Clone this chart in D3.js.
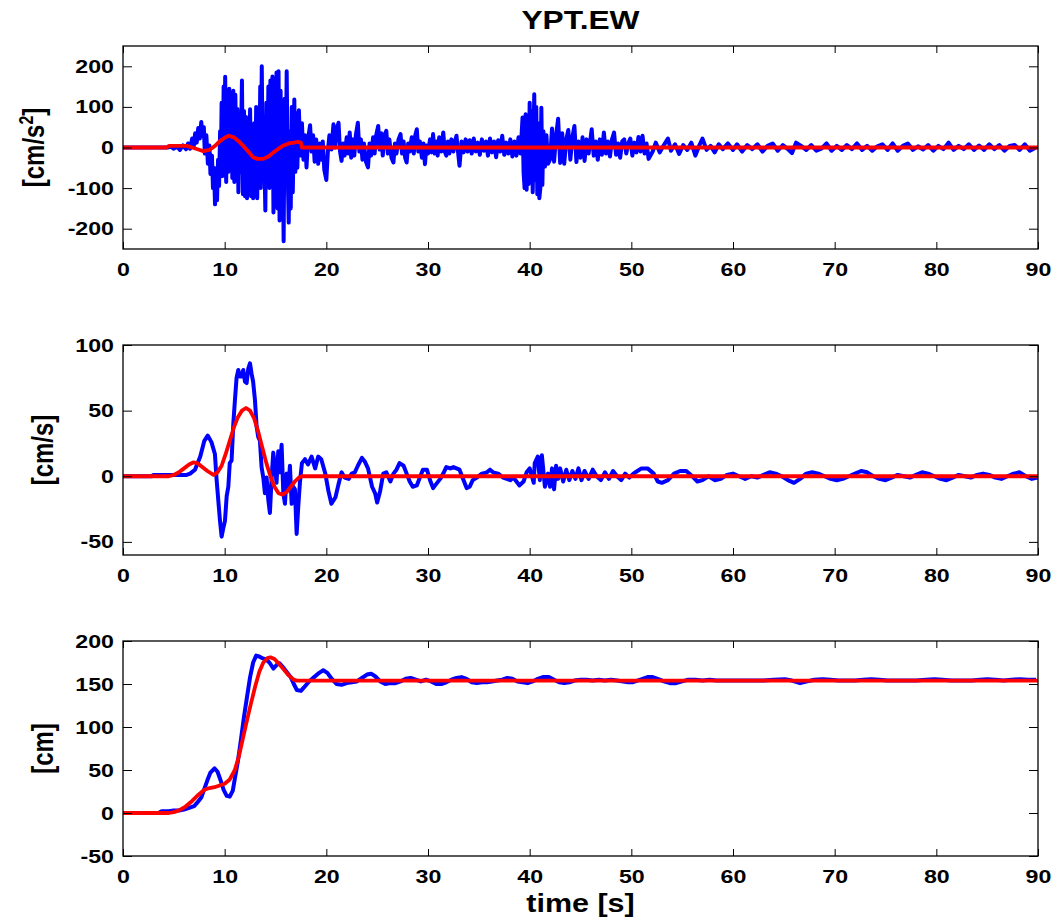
<!DOCTYPE html>
<html>
<head>
<meta charset="utf-8">
<script src="https://cdn.jsdelivr.net/npm/d3@7"></script>
<style>
body { margin: 0; background: #fff; }
svg { display: block; }
text { font-family: "Liberation Sans", Arial, sans-serif; font-weight: bold; fill: #000; }
</style>
</head>
<body>
<svg id="chart" width="1062" height="920"></svg>
<script>
// tick values
const xTicks = [0, 10, 20, 30, 40, 50, 60, 70, 80, 90];
const accTicks = [-200, -100, 0, 100, 200];
const velTicks = [-50, 0, 50, 100];
const dispTicks = [-50, 0, 50, 100, 150, 200];

// acceleration [t (s), cm/s2]
const accBlue = [
	[0, 0], [4.4, 0], [4.7, 2], [5.0, -3], [5.3, 3], [5.6, -6], [5.9, 5], [6.2, -4], [6.4, 10], [6.6, -3],
	[6.8, 22], [6.95, 2], [7.1, 35], [7.25, 12], [7.4, 48], [7.55, 22], [7.7, 63], [7.8, 28], [7.95, 50], [8.05, -15],
	[8.2, 30], [8.35, -40], [8.5, 5], [8.6, -65], [8.75, -20], [8.85, -100], [8.95, -50], [9.05, -140], [9.15, -70], [9.25, -130],
	[9.35, -30], [9.45, -95], [9.55, 40], [9.62, -60], [9.7, 110], [9.8, -70], [9.9, 150], [9.95, -40], [10.05, 174], [10.15, -85],
	[10.25, 120], [10.35, -60], [10.45, 145], [10.55, -30], [10.65, 100], [10.75, -75], [10.85, 140], [10.95, -85], [11.05, 130], [11.15, -40],
	[11.25, 95], [11.35, -110], [11.45, 60], [11.55, -60], [11.7, 165], [11.8, -115], [11.9, 90], [12.0, -120], [12.1, 75], [12.2, -125],
	[12.3, 40], [12.4, -100], [12.5, 94], [12.6, -120], [12.7, 20], [12.8, -125], [12.9, 60], [13.0, -100], [13.1, 100], [13.2, -125],
	[13.3, 30], [13.4, -60], [13.5, 150], [13.55, -100], [13.65, 200], [13.75, -80], [13.85, 60], [14.0, -155], [14.1, 110], [14.2, -60],
	[14.3, 150], [14.4, -100], [14.5, 165], [14.6, -90], [14.7, 175], [14.8, -160], [14.9, 120], [15.0, -120], [15.1, 185], [15.2, -150],
	[15.3, 188], [15.4, -180], [15.5, 140], [15.6, -120], [15.7, 60], [15.8, -231], [15.9, 120], [16.0, -80], [16.1, 188], [16.2, -60],
	[16.3, -185], [16.4, 40], [16.5, -150], [16.6, 100], [16.7, -110], [16.85, 118], [16.95, -60], [17.05, 85], [17.15, -50], [17.3, 92],
	[17.45, -20], [17.6, 60], [17.75, -30], [17.9, 30], [18.05, -49], [18.2, 20], [18.4, 55], [18.55, -10], [18.7, 30], [18.85, -35],
	[19.0, 20], [19.2, -40], [19.35, 10], [19.5, -30], [19.65, 15], [19.8, -55], [20.0, -80], [20.15, -10], [20.3, 30], [20.5, -5],
	[20.7, 57], [20.85, 0], [21.0, 45], [21.2, 61], [21.35, -10], [21.5, -33], [21.65, 10], [21.8, -20], [22.0, 25], [22.15, -15],
	[22.3, 37], [22.45, -25], [22.6, 20], [22.75, -20], [22.9, 30], [23.1, 61], [23.25, -10], [23.4, 20], [23.55, -30], [23.7, 10],
	[23.9, -35], [24.1, -49], [24.25, 10], [24.4, -20], [24.6, 25], [24.75, -15], [24.9, 30], [25.1, 53], [25.25, -5], [25.4, 35],
	[25.55, -20], [25.7, 30], [25.9, 41], [26.05, -15], [26.2, 20], [26.4, -25], [26.6, -37], [26.75, 10], [26.9, -15], [27.1, 20],
	[27.3, 33], [27.45, -15], [27.6, 15], [27.75, -25], [27.9, -37], [28.05, 10], [28.2, -10], [28.4, 25], [28.6, -15], [28.75, 30],
	[28.9, 45], [29.05, -10], [29.2, 15], [29.4, -25], [29.55, 10], [29.7, -41], [29.85, 5], [30.0, -15], [30.2, 20], [30.35, -12],
	[30.5, 33], [30.65, -15], [30.8, 15], [30.95, -20], [31.1, 25], [31.3, -10], [31.5, 37], [31.65, -10], [31.8, -20], [31.95, 15],
	[32.1, -15], [32.3, 20], [32.5, -10], [32.65, 15], [32.8, 29], [32.95, -10], [33.1, -45], [33.3, 15], [33.5, -12], [33.7, 20],
	[33.9, -10], [34.1, 18], [34.3, -15], [34.5, 22], [34.7, -10], [34.9, 12], [35.1, -18], [35.3, 20], [35.5, -8], [35.7, 15],
	[35.9, -20], [36.1, 22], [36.3, -12], [36.5, 15], [36.7, -24], [36.9, 18], [37.1, -10], [37.3, 29], [37.5, -18], [37.7, 12],
	[37.9, -15], [38.1, 20], [38.3, -22], [38.5, 15], [38.7, -20], [38.9, 25], [39.1, -15], [39.3, 74], [39.4, -60], [39.5, -100],
	[39.6, 82], [39.7, -104], [39.8, 60], [39.9, -90], [40.0, 110], [40.1, -60], [40.2, 90], [40.3, -110], [40.45, 131], [40.55, -80],
	[40.65, 100], [40.75, -115], [40.85, 60], [40.95, -125], [41.05, -100], [41.15, 98], [41.25, -92], [41.35, 40], [41.5, -47], [41.65, 30],
	[41.8, -40], [42.0, -30], [42.2, 47], [42.4, -35], [42.6, 30], [42.8, 71], [43.0, -38], [43.2, 35], [43.4, -40], [43.6, 20],
	[43.8, 43], [44.0, -30], [44.2, 25], [44.4, 53], [44.6, -36], [44.8, 15], [45.0, -25], [45.2, 25], [45.4, -33], [45.6, 20],
	[45.8, -15], [46.1, 45], [46.3, -20], [46.5, 15], [46.7, -30], [46.9, 20], [47.1, -18], [47.3, 37], [47.5, -15], [47.7, 15],
	[47.9, -22], [48.1, 20], [48.3, 37], [48.5, -18], [48.7, 10], [48.9, -25], [49.1, 15], [49.3, 20], [49.5, -15], [49.7, 10],
	[49.9, 22], [50.1, -20], [50.3, 12], [50.5, -12], [50.7, 26], [50.9, -10], [51.1, 29], [51.3, -15], [51.5, 10], [51.7, -28],
	[52.1, -10], [52.4, 12], [52.8, -12], [53.2, 6], [53.6, 22], [53.9, -8], [54.3, 8], [54.7, -16], [55.1, 6], [55.5, -6],
	[55.9, 12], [56.3, -20], [56.7, 6], [57.0, 22], [57.4, -6], [57.8, 4], [58.2, -12], [58.6, 8], [59.0, -4], [59.5, 10],
	[60.0, -6], [60.4, 8], [60.9, -10], [61.4, 6], [61.9, -4], [62.4, 8], [62.9, -10], [63.4, 4], [63.9, 10], [64.4, -8],
	[64.9, 6], [65.4, -4], [65.8, -14], [66.2, 12], [66.7, 4], [67.2, -6], [67.7, 6], [68.2, -8], [68.7, -3], [69.2, 10],
	[69.7, -8], [70.2, 4], [70.7, -6], [71.2, 6], [71.7, -4], [72.2, 10], [72.7, -6], [73.2, 4], [73.7, -8], [74.2, 3],
	[74.7, 8], [75.2, -6], [75.7, 10], [76.2, -8], [76.7, 4], [77.2, 10], [77.7, -6], [78.2, 3], [78.7, -5], [79.2, 6],
	[79.7, -8], [80.2, 4], [80.7, -4], [81.2, 12], [81.7, -6], [82.2, 4], [82.7, -4], [83.2, 8], [83.7, -6], [84.2, 5],
	[84.7, -6], [85.2, 8], [85.7, -4], [86.2, 6], [86.7, -8], [87.2, 4], [87.7, 6], [88.2, -6], [88.7, 8], [89.2, -8],
	[89.8, 0]
];
const accRed = [
	[0, 0], [4.3, 0], [4.5, 4], [6.3, 4], [6.8, 0], [7.4, -5], [7.9, -9], [8.5, -6], [9.0, 3], [9.5, 15],
	[10.0, 24], [10.4, 29], [10.9, 25], [11.4, 15], [11.9, 2], [12.4, -12], [12.8, -24], [13.2, -28], [13.8, -28], [14.3, -22],
	[14.8, -12], [15.3, -3], [15.8, 5], [16.3, 10], [16.8, 12], [17.2, 14], [17.5, 12], [17.6, 0], [90, 0]
];

// velocity [t (s), cm/s]
const velBlue = [
	[0, 0], [2.8, 0], [3.0, 1], [6.26, 1], [6.6, 2], [7.08, 5], [7.6, 15], [8.0, 27], [8.33, 31], [8.7, 26],
	[9.04, 17], [9.21, -3], [9.54, -34], [9.7, -46], [9.85, -40], [10.03, -34], [10.2, -15], [10.36, -8], [10.5, 10], [10.68, 12],
	[10.85, 40], [11.01, 58], [11.17, 75], [11.34, 81], [11.5, 76], [11.67, 76], [11.83, 81], [12.0, 72], [12.16, 71], [12.32, 82],
	[12.49, 86], [12.65, 78], [12.8, 72], [12.98, 58], [13.14, 38], [13.3, 30], [13.47, 27], [13.63, 7], [13.8, -1], [13.96, -13],
	[14.13, -1], [14.29, -18], [14.45, -28], [14.62, -1], [14.78, 18], [14.95, 7], [15.1, -5], [15.27, 19], [15.44, 3], [15.6, 24],
	[15.77, -13], [15.93, -21], [16.1, 2], [16.26, -8], [16.42, 8], [16.59, -21], [16.75, -8], [16.91, -10], [17.08, -44], [17.24, -23],
	[17.4, -5], [17.6, 10], [17.9, 13], [18.2, 9], [18.55, 15], [18.9, 6], [19.2, 15], [19.5, 13], [19.9, 2], [20.2, -11],
	[20.5, -21], [20.9, -16], [21.2, -6], [21.5, 3], [21.8, -1], [22.2, -2], [22.5, 2], [22.8, 3], [23.1, 8], [23.5, 14],
	[23.8, 11], [24.1, 6], [24.5, -8], [24.8, -13], [25.0, -20], [25.3, -11], [25.6, 2], [25.9, 3], [26.3, -4], [26.6, 2],
	[26.9, 5], [27.2, 10], [27.6, 8], [27.9, 2], [28.2, -4], [28.5, -8], [28.9, -7], [29.2, -1], [29.5, 5], [29.9, 5],
	[30.2, -3], [30.5, -9], [30.8, -6], [31.2, -2], [31.5, 2], [31.8, 7], [32.2, 6], [32.5, 7], [32.8, 6], [33.1, 5],
	[33.5, -3], [33.8, -9], [34.1, -8], [34.4, -3], [34.8, -1], [35.3, 2], [35.8, 3], [36.1, 5], [36.4, 3], [36.9, 2],
	[37.4, -1], [38.1, -3], [38.4, -1], [38.7, -4], [39.0, -7], [39.4, -4], [39.7, 3], [40.0, 6], [40.4, -5], [40.5, 10],
	[40.8, 15], [41.0, -3], [41.2, 16], [41.5, -8], [41.8, 2], [42.0, -8], [42.2, 6], [42.4, -10], [42.6, 8], [42.8, -2],
	[43.0, 6], [43.3, -4], [43.6, 5], [43.9, -3], [44.2, 4], [44.5, -2], [44.8, 6], [45.1, -3], [45.4, 4], [45.8, -2],
	[46.2, 5], [46.6, 0], [47.0, -3], [47.4, 3], [47.8, -2], [48.2, 4], [48.6, 0], [49.0, -3], [49.4, 2], [49.8, -1],
	[50.2, 2], [50.6, 4], [51.0, 6], [51.6, 6], [52.2, 2], [52.6, -4], [53.0, -5], [53.6, -3], [54.2, 2], [54.8, 4],
	[55.4, 4], [56.0, 0], [56.5, -4], [57.0, -3], [57.6, 0], [58.2, -3], [58.8, -2], [59.4, 1], [60.0, 2], [60.6, 0],
	[61.2, -2], [61.8, 0], [62.4, -1], [63.0, 1], [63.6, 3], [64.2, 2], [64.8, 0], [65.4, -3], [66.0, -5], [66.6, -2],
	[67.2, 2], [67.8, 3], [68.4, 2], [69.0, 0], [69.6, -2], [70.2, -3], [70.8, -2], [71.4, 0], [72.0, 2], [72.6, 4],
	[73.2, 3], [73.8, 0], [74.4, -2], [75.0, -3], [75.6, -1], [76.2, 1], [76.8, 0], [77.4, -1], [78.0, 1], [78.6, 3],
	[79.2, 2], [79.8, 0], [80.4, -2], [81.0, -3], [81.6, -1], [82.2, 1], [82.8, 0], [83.4, -1], [84.0, 1], [84.6, 2],
	[85.2, 1], [85.8, -1], [86.4, -2], [87.0, 0], [87.6, 2], [88.2, 3], [88.8, 0], [89.4, -2], [90, -1]
];
const velRed = [
	[0, 0], [4.5, 0], [5.0, 1], [5.5, 3], [6.0, 6], [6.5, 9], [6.9, 10.5], [7.3, 10], [7.8, 7], [8.3, 4],
	[8.9, 1], [9.3, 3], [9.7, 8], [10.1, 17], [10.5, 27], [10.9, 37], [11.3, 45], [11.7, 50], [12.1, 52], [12.5, 50],
	[12.9, 44], [13.3, 34], [13.7, 22], [14.1, 10], [14.5, 0], [14.9, -8], [15.3, -13], [15.7, -14], [16.1, -12], [16.5, -8],
	[16.9, -4], [17.3, -1], [17.6, 0], [90, 0]
];

// displacement [t (s), cm]
const dispBlue = [
	[0, 0], [3.5, 0], [3.8, 2], [4.5, 2], [5.0, 3], [5.5, 3], [6.0, 4], [6.5, 6], [7.0, 8], [7.3, 12],
	[7.7, 18], [8.0, 28], [8.3, 38], [8.6, 47], [9.0, 52], [9.3, 48], [9.6, 38], [9.9, 27], [10.2, 20], [10.5, 19],
	[10.8, 26], [11.0, 40], [11.3, 60], [11.6, 85], [11.9, 112], [12.2, 135], [12.5, 158], [12.8, 175], [13.1, 183], [13.4, 182],
	[13.7, 180], [14.0, 179], [14.4, 175], [14.8, 168], [15.1, 172], [15.4, 174], [15.7, 170], [16.1, 164], [16.5, 158], [16.8, 150],
	[17.1, 143], [17.5, 142], [17.8, 146], [18.3, 153], [18.8, 158], [19.3, 163], [19.7, 166], [20.1, 163], [20.6, 155], [21.0, 150],
	[21.5, 149], [22.0, 151], [22.5, 152], [23.0, 153], [23.5, 157], [24.0, 161], [24.4, 162], [24.8, 159], [25.3, 153], [25.8, 150],
	[26.3, 151], [26.8, 151], [27.3, 153], [27.8, 156], [28.3, 157], [28.8, 155], [29.3, 153], [29.8, 155], [30.3, 153], [30.8, 150],
	[31.3, 150], [31.8, 152], [32.3, 155], [32.8, 157], [33.3, 158], [33.8, 156], [34.3, 152], [34.8, 151], [35.3, 152], [35.8, 152],
	[36.3, 153], [36.8, 154], [37.3, 155], [37.8, 157], [38.3, 156], [38.8, 153], [39.3, 152], [39.8, 151], [40.3, 153], [40.8, 156],
	[41.3, 158], [41.9, 158], [42.4, 155], [42.9, 152], [43.4, 151], [43.9, 152], [44.4, 154], [45.0, 155], [45.6, 155], [46.2, 154],
	[46.8, 155], [47.4, 154], [48.0, 155], [48.6, 154], [49.2, 153], [49.7, 152], [50.1, 152], [50.6, 154], [51.1, 156], [51.6, 158],
	[52.1, 158], [52.6, 156], [53.2, 153], [53.8, 151], [54.4, 151], [55.0, 153], [55.6, 155], [56.3, 155], [57.0, 154], [57.7, 155],
	[58.4, 154], [59.2, 154], [60.0, 154], [61.0, 154], [62.0, 154], [63.0, 154], [64.0, 155], [65.1, 155.5], [65.8, 154], [66.6, 151],
	[67.3, 153], [68.0, 155], [68.8, 155.5], [69.6, 155], [70.4, 154], [71.2, 154], [72.0, 154], [72.8, 155], [73.6, 155.5], [74.4, 155],
	[75.2, 154], [76.0, 154], [77.0, 154], [78.0, 154], [79.0, 155], [79.8, 155.5], [80.6, 155], [81.5, 154], [82.5, 154], [83.5, 154],
	[84.3, 155], [85.0, 155.5], [85.8, 155], [86.6, 154], [87.4, 155], [88.2, 155.5], [89.0, 155], [89.8, 155]
];
const dispRed = [
	[0, 0], [4.5, 0], [5.0, 1], [5.5, 3], [6.1, 7], [6.8, 14], [7.4, 21], [8.0, 27], [8.5, 29], [9.0, 30],
	[9.5, 32], [10.0, 34], [10.5, 39], [11.0, 50], [11.4, 66], [11.8, 87], [12.2, 108], [12.6, 128], [13.0, 147], [13.4, 164],
	[13.8, 175], [14.2, 180], [14.5, 181], [14.9, 179], [15.3, 174], [15.8, 167], [16.3, 160], [16.8, 155], [17.1, 154], [90, 154]
];

const SX = 1.22; // the figure is stretched sideways
const LEFT = 123;
const RIGHT = 1038;
const $svg = d3.select('#chart');

const x = d3.scaleLinear().domain([0, 90]).range([LEFT, RIGHT]);
const fmt = d => String(d); // plain hyphen minus, like matlab

const panels = [
	{ top: 46, bottom: 249, domain: [-250, 250], ticks: accTicks, blue: accBlue, red: accRed, labelX: 44, unit: 'acc' },
	{ top: 345, bottom: 555, domain: [-60, 100], ticks: velTicks, blue: velBlue, red: velRed, labelX: 53, unit: '[cm/s]' },
	{ top: 641, bottom: 856, domain: [-50, 200], ticks: dispTicks, blue: dispBlue, red: dispRed, labelX: 53, unit: '[cm]' }
];

function stretchText($sel) {
	$sel.selectAll('text').attr('transform', `scale(${SX},1)`);
}

panels.forEach((p, i) => {
	const y = d3.scaleLinear().domain(p.domain).range([p.bottom, p.top]);
	const $g = $svg.append('g');

	$g.append('clipPath').attr('id', `clip${i}`)
		.append('rect')
		.attr('x', LEFT).attr('y', p.top)
		.attr('width', RIGHT - LEFT).attr('height', p.bottom - p.top);

	const line = d3.line().x(d => x(d[0])).y(d => y(d[1]));
	const $lines = $g.append('g').attr('clip-path', `url(#clip${i})`);
	$lines.append('path').datum(p.blue).attr('d', line)
		.attr('fill', 'none').attr('stroke', '#0000ff')
		.attr('stroke-width', 4).attr('stroke-linejoin', 'round');
	$lines.append('path').datum(p.red).attr('d', line)
		.attr('fill', 'none').attr('stroke', '#ff0000')
		.attr('stroke-width', 3.8).attr('stroke-linejoin', 'round');

	// axes, ticks pointing inward like matlab
	const $bottom = $g.append('g').attr('transform', `translate(0,${p.bottom})`)
		.call(d3.axisBottom(x).tickValues(xTicks).tickSize(-7).tickPadding(14).tickFormat(fmt));
	const $top = $g.append('g').attr('transform', `translate(0,${p.top})`)
		.call(d3.axisTop(x).tickValues(xTicks).tickSize(-7).tickFormat(''));
	const $left = $g.append('g').attr('transform', `translate(${LEFT},0)`)
		.call(d3.axisLeft(y).tickValues(p.ticks).tickSize(-9).tickPadding(9 / SX).tickFormat(fmt));
	const $right = $g.append('g').attr('transform', `translate(${RIGHT},0)`)
		.call(d3.axisRight(y).tickValues(p.ticks).tickSize(-9).tickFormat(''));

	[$bottom, $top, $left, $right].forEach($a => {
		$a.select('.domain').remove();
		$a.selectAll('line').attr('stroke', '#000').attr('stroke-width', 1);
		$a.selectAll('text').style('font-size', '19px')
			.style('font-family', '"Liberation Sans", Arial, sans-serif')
			.style('font-weight', 'bold').attr('fill', '#000');
	});
	stretchText($bottom);
	stretchText($left);

	$g.append('rect')
		.attr('x', LEFT).attr('y', p.top)
		.attr('width', RIGHT - LEFT).attr('height', p.bottom - p.top)
		.attr('fill', 'none').attr('stroke', '#000').attr('stroke-width', 1.3);

	// y label, rotated
	const cy = (p.top + p.bottom) / 2;
	const $lab = $g.append('text')
		.attr('transform', `translate(${p.labelX},${cy}) scale(${SX},1) rotate(-90)`)
		.attr('text-anchor', 'middle')
		.style('font-size', '24px');
	if (p.unit === 'acc') {
		$lab.append('tspan').text('[cm/s');
		$lab.append('tspan').attr('baseline-shift', 'super').style('font-size', '16px').text('2');
		$lab.append('tspan').text(']');
	} else {
		$lab.text(p.unit);
	}
});

const mid = (LEFT + RIGHT) / 2;
$svg.append('text')
	.attr('transform', `translate(${mid},29) scale(${SX},1)`)
	.attr('text-anchor', 'middle')
	.style('font-size', '26px')
	.text('YPT.EW');

$svg.append('text')
	.attr('transform', `translate(${mid},912) scale(${SX},1)`)
	.attr('text-anchor', 'middle')
	.style('font-size', '25px')
	.text('time [s]');
</script>
</body>
</html>
